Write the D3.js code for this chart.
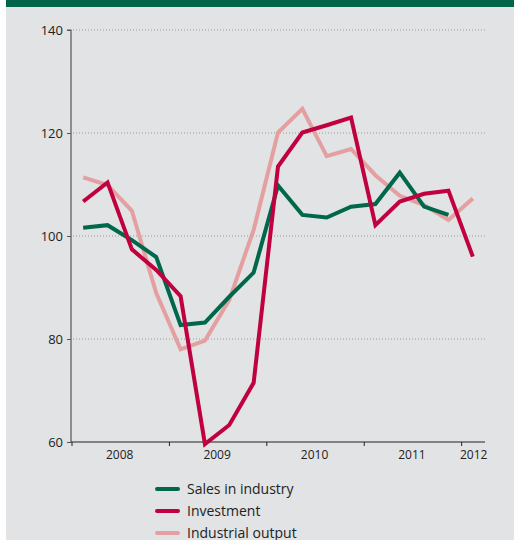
<!DOCTYPE html>
<html>
<head>
<meta charset="utf-8">
<script src="https://cdn.jsdelivr.net/npm/d3@7/dist/d3.min.js"></script>
<style>
  html, body { margin: 0; padding: 0; background: #fff; }
  svg { display: block; }
  text { font-family: "Open Sans", "Noto Sans", sans-serif; fill: #222; }
</style>
</head>
<body>
<svg id="chart" width="515" height="540"></svg>
<script>
// Quarterly index values, 2008 Q1 – 2012 Q1
const quarters = ["2008Q1","2008Q2","2008Q3","2008Q4","2009Q1","2009Q2","2009Q3","2009Q4",
                  "2010Q1","2010Q2","2010Q3","2010Q4","2011Q1","2011Q2","2011Q3","2011Q4","2012Q1"];
const salesInIndustry = [101.6, 102.1, 99.2, 95.9, 82.7, 83.2, 88.2, 92.9,
                         109.8, 104.1, 103.6, 105.7, 106.2, 112.3, 105.7, 104.1, null];
const investment      = [106.7, 110.4, 97.4, 93.4, 88.3, 59.6, 63.3, 71.5,
                         113.5, 120.1, 121.5, 123.0, 102.1, 106.7, 108.2, 108.8, 96.0];
const industrialOutput = [111.4, 109.9, 104.9, 88.9, 78.0, 79.7, 87.6, 101.2,
                          120.1, 124.7, 115.5, 116.9, 111.8, 107.8, 106.0, 103.1, 107.3];
const yTicks = [60, 80, 100, 120, 140];
// Year labels with the quarter span they sit under
const yearLabels = [
  {label: "2008", from: 0, to: 4},
  {label: "2009", from: 4, to: 8},
  {label: "2010", from: 8, to: 12},
  {label: "2011", from: 12, to: 16},
  {label: "2012", from: 16, to: 17}
];
const seriesNames = ["Sales in industry", "Investment", "Industrial output"];
const seriesColors = ["#00674b", "#c0003f", "#e4a0a0"];
const seriesData = [salesInIndustry, investment, industrialOutput];

const svg = d3.select("#chart");

// Panel and header band
svg.append("rect").attr("x", 6).attr("y", 0).attr("width", 508).attr("height", 540).attr("fill", "#e1e3e4");
svg.append("rect").attr("x", 6).attr("y", 0).attr("width", 508).attr("height", 7).attr("fill", "#00654a");

const x0 = 71, x1 = 485, yTop = 30, yBot = 442;
const x = d3.scaleLinear().domain([0, quarters.length]).range([x0, x1]);
const y = d3.scaleLinear().domain([60, 140]).range([yBot, yTop]);

// Dotted gridlines
svg.append("g").selectAll("line").data(yTicks.filter(t => t > 60)).join("line")
  .attr("x1", x0 + 2).attr("x2", x1 + 1)
  .attr("y1", d => y(d)).attr("y2", d => y(d))
  .attr("stroke", "#9a9a9a").attr("stroke-width", 1).attr("stroke-dasharray", "1,2");

// Y axis
const yAxis = d3.axisLeft(y).tickValues(yTicks).tickSize(4).tickPadding(4);
const gy = svg.append("g").attr("transform", `translate(${x0},0)`).call(yAxis);
gy.select(".domain").attr("stroke", "#555").attr("stroke-width", 1.2).attr("d", `M-4,${yTop}H0V${yBot}`);
gy.selectAll(".tick line").attr("stroke", "#555");
gy.selectAll(".tick text").style("font-size", "13px").attr("fill", "#222");

// X axis with ticks at year boundaries
const xTicks = [0, 4, 8, 12, 16];
const xAxis = d3.axisBottom(x).tickValues(xTicks).tickSize(4).tickFormat("");
const gx = svg.append("g").attr("transform", `translate(0,${yBot})`).call(xAxis);
gx.select(".domain").attr("stroke", "#222").attr("stroke-width", 1.2).attr("d", `M${x0},0H${x1}`);
gx.selectAll(".tick line").attr("stroke", "#222").attr("transform", "translate(0.5,0)");

svg.append("g").selectAll("text").data(yearLabels).join("text")
  .attr("x", d => d.label === "2012" ? x(d.from) + 13 : (x(d.from) + x(d.to)) / 2)
  .attr("y", yBot + 17)
  .attr("text-anchor", "middle")
  .style("font-size", "12px")
  .attr("fill", "#222")
  .text(d => d.label);

// Series lines through the middle of each quarter
const line = d3.line()
  .defined(d => d != null)
  .x((d, i) => x(i + 0.5))
  .y(d => y(d));

svg.append("g").selectAll("path").data([2, 0, 1]).join("path")
  .attr("d", k => line(seriesData[k]))
  .attr("fill", "none")
  .attr("stroke", k => seriesColors[k])
  .attr("stroke-width", 4)
  .attr("stroke-linejoin", "miter")
  .attr("stroke-linecap", "butt");

// Legend
const lg = svg.append("g").selectAll("g").data(seriesNames).join("g")
  .attr("transform", (d, i) => `translate(157,${489 + i * 22})`);
lg.append("line").attr("x1", 0).attr("x2", 21).attr("y1", 0).attr("y2", 0)
  .attr("stroke", (d, i) => seriesColors[i]).attr("stroke-width", 4).attr("stroke-linecap", "round");
lg.append("text").attr("x", 30).attr("y", 5).style("font-size", "14px").attr("fill", "#222").text(d => d);
</script>
</body>
</html>
